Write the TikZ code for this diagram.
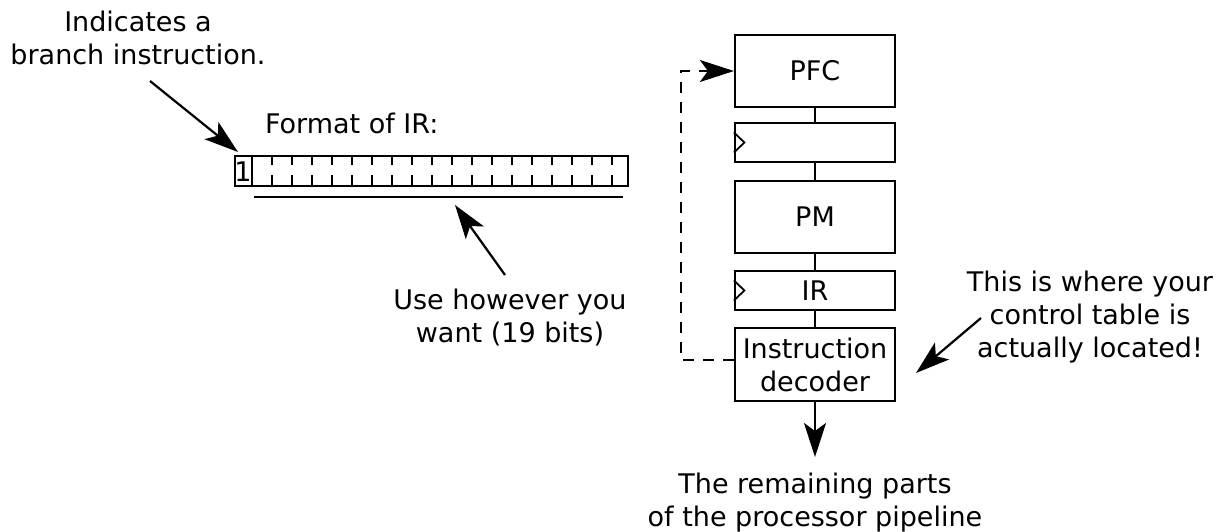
\documentclass[tikz,border=0pt]{standalone}
\usepackage{fontspec}
\setmainfont{DejaVu Sans}
\usetikzlibrary{arrows.meta,calc}
\begin{document}
\begin{tikzpicture}[x=1pt,y=-1pt,line width=2.2pt,
  every node/.style={font=\fontsize{27}{33}\selectfont},
  blk/.style={draw,minimum width=160pt,minimum height=72pt,inner sep=2pt},
  regbox/.style={draw,minimum width=160pt,minimum height=39pt,inner sep=0pt},
  arr/.style={-{Stealth[length=34pt,width=22pt,inset=8pt]}},
  dashline/.style={dash pattern=on 11pt off 9pt},
  lbl/.style={align=center,inner sep=0pt,anchor=north}]
\useasboundingbox (0,0) rectangle (1231,532);

% pipeline stages
\node[blk] (pfc) at (815,71) {PFC};
\node[regbox] (r1) at (815,142.5) {};
\node[blk] (pm) at (815,217) {PM};
\node[regbox] (ir) at (815,290.5) {IR};
\node[blk,minimum height=73pt,align=center] (dec) at (815,364.5) {Instruction\\decoder};

\draw (pfc) -- (r1);
\draw (r1) -- (pm);
\draw (pm) -- (ir);
\draw (ir) -- (dec);

% clock marks on the registers
\foreach \r in {r1,ir}{
  \draw[line width=1.8pt] ([yshift=10pt]\r.west) -- ([xshift=10.5pt]\r.west) -- ([yshift=-10pt]\r.west);
}

% branch feedback from the decoder to the PFC
\coordinate (fb) at (681,360);
\draw[dashline,arr] (dec.west |- fb) -- (fb) -- (fb |- pfc.west) -- (pfc.west);

% output of the decoder
\node[lbl] (rest) at (815,471.5) {The remaining parts\\of the processor pipeline};
\coordinate (outtip) at (815,457);
\draw[arr] (dec.south) -- (outtip);

% instruction register format
\node[anchor=base west,inner sep=0pt] (fmtlbl) at (264,134) {Format of IR:};
\node[draw,minimum width=393pt,minimum height=30pt,inner sep=0pt,anchor=north west] (fmt) at (234,155) {};
\draw (252,155) -- (252,185);
\foreach \i in {1,...,18}{
  \draw ({252+20*\i},155) -- ++(0,10);
  \draw ({252+20*\i},185) -- ++(0,-10);
}
\node[anchor=base,inner sep=0pt] (bit) at (243,181) {1};
\draw (254,197) -- (623,197);

% annotations
\node[lbl] (branch) at (138,9.5) {Indicates a\\branch instruction.};
\coordinate (bs) at (150,81);
\coordinate (bt) at (238,152);
\draw[arr] (bs) -- (bt);

\node[lbl] (use) at (510,287.5) {Use however you\\want (19 bits)};
\coordinate (us) at (505,275);
\coordinate (ut) at (455,205);
\draw[arr] (us) -- (ut);

\node[lbl] (ctl) at (1090,269.5) {This is where your\\control table is\\actually located!};
\coordinate (cs) at (981,318);
\coordinate (ct) at (916,373);
\draw[arr] (cs) -- (ct);
\end{tikzpicture}
\end{document}
